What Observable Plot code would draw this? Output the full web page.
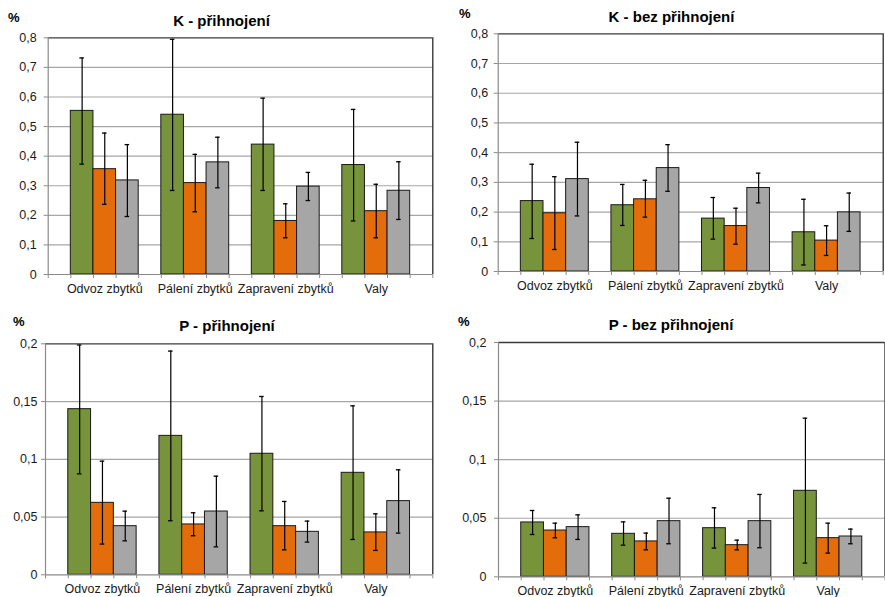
<!DOCTYPE html>
<html>
<head>
<meta charset="utf-8">
<script src="https://cdn.jsdelivr.net/npm/d3@7"></script>
<script src="https://cdn.jsdelivr.net/npm/@observablehq/plot@0.6"></script>
<style>
  html, body { margin: 0; padding: 0; background: #fff; }
  body { width: 885px; height: 597px; position: relative; overflow: hidden; font-family: "Liberation Sans", Arial, sans-serif; }
  .panel { position: absolute; }
  .title { position: absolute; font-weight: bold; font-size: 15px; line-height: 1; white-space: nowrap; transform: translateX(-50%); color: #000; }
  .pct { position: absolute; font-weight: bold; font-size: 13px; line-height: 1; color: #000; }
</style>
</head>
<body>
<script>
// ---- data ----
const categories = ["Odvoz zbytků", "Pálení zbytků", "Zapravení zbytků", "Valy"];
const seriesColors = ["#77933c", "#e46c0a", "#a6a6a6"];

const kTicks = [0, 0.1, 0.2, 0.3, 0.4, 0.5, 0.6, 0.7, 0.8];
const kTickLabels = ["0", "0,1", "0,2", "0,3", "0,4", "0,5", "0,6", "0,7", "0,8"];
const pTicks = [0, 0.05, 0.1, 0.15, 0.2];
const pTickLabels = ["0", "0,05", "0,1", "0,15", "0,2"];

// values ordered: category by category, three series each
const kPriMean = [0.553, 0.356, 0.318, 0.540, 0.309, 0.379, 0.439, 0.181, 0.297, 0.370, 0.214, 0.283];
const kPriLow  = [0.373, 0.237, 0.196, 0.284, 0.212, 0.293, 0.284, 0.124, 0.250, 0.181, 0.124, 0.186];
const kPriHigh = [0.732, 0.478, 0.439, 0.795, 0.406, 0.464, 0.596, 0.239, 0.345, 0.558, 0.305, 0.381];

const kBezMean = [0.237, 0.196, 0.311, 0.223, 0.243, 0.348, 0.178, 0.153, 0.281, 0.132, 0.104, 0.199];
const kBezLow  = [0.111, 0.074, 0.187, 0.155, 0.183, 0.270, 0.109, 0.092, 0.231, 0.022, 0.054, 0.135];
const kBezHigh = [0.361, 0.319, 0.435, 0.293, 0.307, 0.427, 0.249, 0.213, 0.331, 0.243, 0.154, 0.264];

const pPriMean = [0.1434, 0.0623, 0.0421, 0.1203, 0.0436, 0.0548, 0.1048, 0.0421, 0.0372, 0.0883, 0.0367, 0.0638];
const pPriLow  = [0.0874, 0.0266, 0.0294, 0.0468, 0.0338, 0.0242, 0.0554, 0.0216, 0.0283, 0.0306, 0.0211, 0.0361];
const pPriHigh = [0.1990, 0.0984, 0.0551, 0.1937, 0.0537, 0.0854, 0.1544, 0.0635, 0.0465, 0.1463, 0.0528, 0.0909];

const pBezMean = [0.0464, 0.0395, 0.0424, 0.0367, 0.0302, 0.0475, 0.0415, 0.0270, 0.0475, 0.0734, 0.0330, 0.0344];
const pBezLow  = [0.0361, 0.0333, 0.0319, 0.0270, 0.0230, 0.0282, 0.0245, 0.0230, 0.0248, 0.0117, 0.0202, 0.0282];
const pBezHigh = [0.0566, 0.0458, 0.0529, 0.0469, 0.0373, 0.0671, 0.0589, 0.0313, 0.0703, 0.1354, 0.0458, 0.0407];

// ---- drawing ----
const nSlots = categories.length * 4 + 1;
const slotOf = d => d.c * 4 + 1 + d.s;

function panel(o) {
  const data = o.mean.map((v, i) => ({c: Math.floor(i / 3), s: i % 3, v, lo: o.low[i], hi: o.high[i]}));
  const yMax = o.ticks[o.ticks.length - 1];
  const fmt = t => o.tickLabels[o.ticks.indexOf(t)];
  const cap = 0.1;
  const chart = Plot.plot({
    width: o.width, height: o.height,
    marginLeft: o.ml, marginRight: o.mr, marginTop: o.mt, marginBottom: o.mb,
    style: {fontFamily: '"Liberation Sans", Arial, sans-serif', background: "transparent", color: "#000"},
    x: {domain: [0, nSlots], axis: null},
    y: {domain: [0, yMax], axis: null},
    marks: [
      Plot.ruleY(o.ticks.filter(t => t > 0 && t < yMax), {stroke: "#a6a6a6", strokeWidth: 1.2}),
      Plot.rect(data, {x1: d => slotOf(d), x2: d => slotOf(d) + 1, y1: () => 0, y2: "v",
        fill: d => seriesColors[d.s], stroke: "#1a1a1a", strokeWidth: 1}),
      Plot.ruleX(data, {x: d => slotOf(d) + 0.5, y1: "lo", y2: "hi", stroke: "#000", strokeWidth: 1.2}),
      Plot.ruleY(data, {y: "lo", x1: d => slotOf(d) + 0.5 - cap, x2: d => slotOf(d) + 0.5 + cap, stroke: "#000", strokeWidth: 1.3}),
      Plot.ruleY(data, {y: "hi", x1: d => slotOf(d) + 0.5 - cap, x2: d => slotOf(d) + 0.5 + cap, stroke: "#000", strokeWidth: 1.3}),
      Plot.ruleY([yMax], {stroke: "#3a3a3a", strokeWidth: 1.3}),
      Plot.ruleX([nSlots], {stroke: "#2a2a2a", strokeWidth: 1.3}),
      Plot.ruleX([0], {stroke: "#8a8a8a", strokeWidth: 1.2}),
      Plot.ruleY([0], {stroke: "#8a8a8a", strokeWidth: 1.2}),
      Plot.axisY({ticks: o.ticks, tickFormat: fmt, tickSize: 4, tickPadding: o.yPad, fontSize: 12.5, stroke: "#8a8a8a", fill: "#1a1a1a"}),
      Plot.axisX({ticks: d3.range(nSlots + 1), tickFormat: () => "", tickSize: 4, stroke: "#8a8a8a"}),
      Plot.axisX({ticks: categories.map((c, i) => i * 4 + 2.5), tickFormat: t => categories[(t - 2.5) / 4],
        tickSize: 0, tickPadding: o.xPad, fontSize: 12.5, fill: "#1a1a1a"})
    ]
  });
  const div = document.createElement("div");
  div.className = "panel";
  div.style.left = o.left + "px";
  div.style.top = o.top + "px";
  div.appendChild(chart);
  document.body.appendChild(div);

  const t = document.createElement("div");
  t.className = "title";
  t.textContent = o.title;
  t.style.left = o.titleX + "px";
  t.style.top = o.titleY + "px";
  document.body.appendChild(t);

  const p = document.createElement("div");
  p.className = "pct";
  p.textContent = "%";
  p.style.left = o.pctX + "px";
  p.style.top = o.pctY + "px";
  document.body.appendChild(p);
}

panel({mean: kPriMean, low: kPriLow, high: kPriHigh, ticks: kTicks, tickLabels: kTickLabels,
  left: 0, top: 0, width: 445, height: 300, ml: 47.7, mr: 12.7, mt: 37.3, mb: 26, yPad: 7.5, xPad: 10,
  title: "K - přihnojení", titleX: 221.5, titleY: 13.3, pctX: 8, pctY: 10.7});
panel({mean: kBezMean, low: kBezLow, high: kBezHigh, ticks: kTicks, tickLabels: kTickLabels,
  left: 445, top: 0, width: 440, height: 300, ml: 52.7, mr: 2.3, mt: 33.3, mb: 29, yPad: 6, xPad: 9.5,
  title: "K - bez přihnojení", titleX: 671.5, titleY: 9, pctX: 459, pctY: 6.7});
panel({mean: pPriMean, low: pPriLow, high: pPriHigh, ticks: pTicks, tickLabels: pTickLabels,
  left: 0, top: 300, width: 445, height: 297, ml: 45, mr: 12.7, mt: 43.3, mb: 22.7, yPad: 4, xPad: 9,
  title: "P - přihnojení", titleX: 227, titleY: 318.3, pctX: 13, pctY: 315});
panel({mean: pBezMean, low: pBezLow, high: pBezHigh, ticks: pTicks, tickLabels: pTickLabels,
  left: 445, top: 300, width: 440, height: 297, ml: 53, mr: 0.5, mt: 42, mb: 20.7, yPad: 8, xPad: 9.5,
  title: "P - bez přihnojení", titleX: 671, titleY: 317.3, pctX: 458, pctY: 315});
</script>
</body>
</html>
